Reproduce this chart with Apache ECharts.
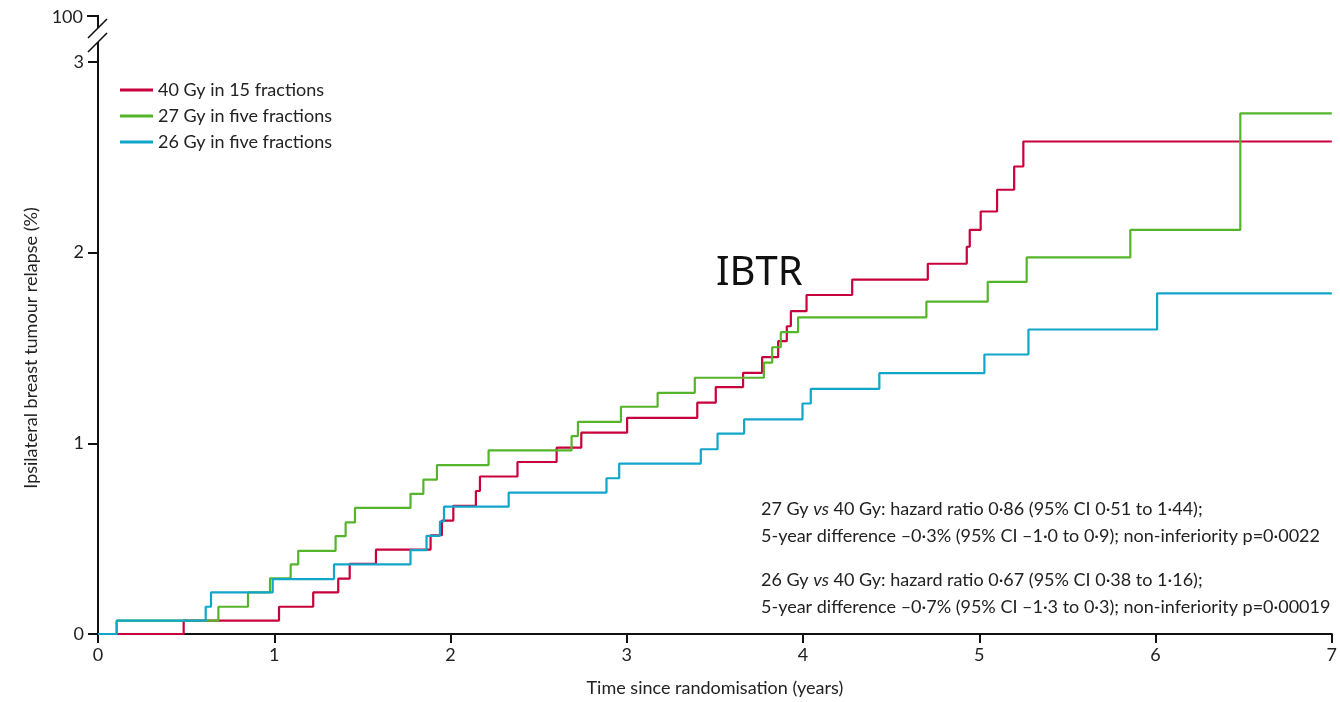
<!DOCTYPE html>
<html>
<head>
<meta charset="utf-8">
<script src="https://cdn.jsdelivr.net/npm/echarts@6/dist/echarts.min.js"></script>
<style>
  html, body { margin: 0; padding: 0; background: #fff; }
  #chart { width: 1340px; height: 702px; }
</style>
</head>
<body>
<div id="chart"></div>
<script>
// step times (years) and cumulative IBTR (%)
var redName = '40 Gy in 15 fractions';
var redTimes = [0, 0.486, 1.027, 1.221, 1.363, 1.428, 1.577, 1.887, 1.951, 2.016, 2.144, 2.167, 2.38, 2.602, 2.742, 3.002, 3.4, 3.505, 3.66, 3.768, 3.859, 3.908, 3.931, 4.02, 4.279, 4.708, 4.929, 4.946, 5.008, 5.101, 5.198, 5.25, 7];
var redRisk = [0, 0.07, 0.143, 0.218, 0.29, 0.368, 0.443, 0.518, 0.595, 0.672, 0.75, 0.826, 0.902, 0.977, 1.056, 1.134, 1.213, 1.295, 1.37, 1.452, 1.536, 1.614, 1.693, 1.778, 1.859, 1.942, 2.031, 2.12, 2.216, 2.33, 2.452, 2.583, 2.583];

var greenName = '27 Gy in five fractions';
var greenTimes = [0, 0.106, 0.683, 0.851, 0.976, 1.093, 1.136, 1.348, 1.405, 1.458, 1.773, 1.846, 1.923, 2.216, 2.687, 2.723, 2.967, 3.175, 3.386, 3.778, 3.825, 3.874, 3.972, 4.70, 5.048, 5.269, 5.857, 6.481, 7];
var greenRisk = [0, 0.07, 0.143, 0.218, 0.292, 0.365, 0.436, 0.513, 0.585, 0.661, 0.735, 0.81, 0.886, 0.963, 1.038, 1.113, 1.192, 1.265, 1.344, 1.423, 1.504, 1.583, 1.661, 1.743, 1.847, 1.975, 2.12, 2.731, 2.731];

var blueName = '26 Gy in five fractions';
var blueTimes = [0, 0.106, 0.611, 0.641, 0.991, 1.339, 1.773, 1.864, 1.94, 1.963, 2.33, 2.885, 2.957, 3.42, 3.515, 3.666, 3.997, 4.044, 4.433, 5.029, 5.279, 6.009, 7];
var blueRisk = [0, 0.07, 0.143, 0.218, 0.288, 0.365, 0.44, 0.515, 0.59, 0.668, 0.742, 0.817, 0.894, 0.969, 1.051, 1.126, 1.209, 1.286, 1.368, 1.466, 1.597, 1.787, 1.787];

var xTicks = [0, 1, 2, 3, 4, 5, 6, 7];
var yTicks = [0, 1, 2, 3];
var yBreakLabel = '100';

var notes = [
  ['27 Gy ', 'vs', ' 40 Gy: hazard ratio 0·86 (95% CI 0·51 to 1·44);'],
  ['5-year difference –0·3% (95% CI –1·0 to 0·9); non-inferiority p=0·0022'],
  ['26 Gy ', 'vs', ' 40 Gy: hazard ratio 0·67 (95% CI 0·38 to 1·16);'],
  ['5-year difference –0·7% (95% CI –1·3 to 0·3); non-inferiority p=0·00019']
];
var noteY = [509, 536, 580, 607];

var font = 'Lato';
var fs = 18;
var chart = echarts.init(document.getElementById('chart'));

function pairs(t, v) {
  return t.map(function (x, i) { return [x, v[i]]; });
}

function kmSeries(name, t, v, color) {
  return {
    name: name,
    type: 'line',
    step: 'end',
    symbol: 'none',
    data: pairs(t, v),
    lineStyle: { color: color, width: 2.2 },
    itemStyle: { color: color },
    animation: false
  };
}

var axisCol = '#111';

var graphics = [
  // broken axis up to 100
  { type: 'line', shape: { x1: 98, y1: 62, x2: 98, y2: 42 }, style: { stroke: axisCol, lineWidth: 2 } },
  { type: 'line', shape: { x1: 88, y1: 52, x2: 107, y2: 33 }, style: { stroke: axisCol, lineWidth: 1.6 } },
  { type: 'line', shape: { x1: 88, y1: 38, x2: 107, y2: 19 }, style: { stroke: axisCol, lineWidth: 1.6 } },
  { type: 'line', shape: { x1: 98, y1: 16, x2: 98, y2: 28 }, style: { stroke: axisCol, lineWidth: 2 } },
  { type: 'line', shape: { x1: 87, y1: 16, x2: 99, y2: 16 }, style: { stroke: axisCol, lineWidth: 2 } },
  { type: 'text', x: 83, y: 17, style: { text: yBreakLabel, fill: '#222', font: fs + 'px ' + font, align: 'right', verticalAlign: 'middle' } },
  { type: 'text', x: 716, y: 274, style: { text: 'IBTR', fill: '#111', font: '40px "Noto Sans"', verticalAlign: 'middle' } }
];

notes.forEach(function (parts, i) {
  var txt = parts.length === 3 ? parts[0] + '{i|' + parts[1] + '}' + parts[2] : parts[0];
  graphics.push({
    type: 'text', x: 761, y: noteY[i],
    style: {
      text: txt, fill: '#222', font: fs + 'px ' + font, verticalAlign: 'middle',
      rich: { i: { fontStyle: 'italic', fontFamily: font, fontSize: fs, fill: '#222' } }
    }
  });
});

var option = {
  backgroundColor: '#fff',
  animation: false,
  grid: { left: 98, right: 8, top: 62, bottom: 67 },
  legend: {
    orient: 'vertical',
    left: 115,
    top: 76,
    icon: 'rect',
    itemWidth: 33,
    itemHeight: 3,
    itemGap: 8,
    data: [redName, greenName, blueName],
    textStyle: { fontFamily: font, fontSize: fs, color: '#222', lineHeight: 18 }
  },
  xAxis: {
    type: 'value',
    min: xTicks[0],
    max: xTicks[xTicks.length - 1],
    interval: 1,
    name: 'Time since randomisation (years)',
    nameLocation: 'middle',
    nameGap: 45,
    nameTextStyle: { fontFamily: font, fontSize: fs, color: '#222' },
    axisLine: { lineStyle: { color: axisCol, width: 2 } },
    axisTick: { length: 9, lineStyle: { color: axisCol, width: 2 } },
    axisLabel: { margin: 12, fontFamily: font, fontSize: fs, color: '#222' },
    splitLine: { show: false }
  },
  yAxis: {
    type: 'value',
    min: yTicks[0],
    max: yTicks[yTicks.length - 1],
    interval: 1,
    name: 'Ipsilateral breast tumour relapse (%)',
    nameLocation: 'middle',
    nameGap: 58,
    nameTextStyle: { fontFamily: font, fontSize: fs, color: '#222' },
    axisLine: { show: true, lineStyle: { color: axisCol, width: 2 } },
    axisTick: { show: true, length: 10, lineStyle: { color: axisCol, width: 2 } },
    axisLabel: { margin: 14, fontFamily: font, fontSize: fs, color: '#222' },
    splitLine: { show: false }
  },
  graphic: graphics,
  series: [
    kmSeries(redName, redTimes, redRisk, '#c8003c'),
    kmSeries(greenName, greenTimes, greenRisk, '#55b52a'),
    kmSeries(blueName, blueTimes, blueRisk, '#10a6c9')
  ]
};

chart.setOption(option);
</script>
</body>
</html>
